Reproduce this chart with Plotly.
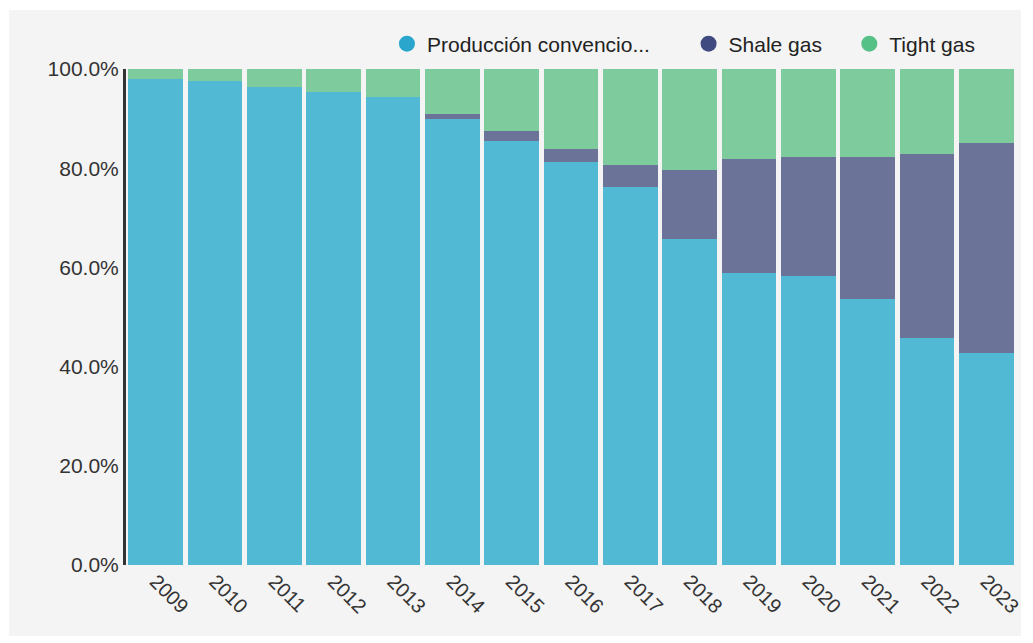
import plotly.graph_objects as go

years = ["2009", "2010", "2011", "2012", "2013", "2014", "2015", "2016",
         "2017", "2018", "2019", "2020", "2021", "2022", "2023"]
conventional = [98.0, 97.6, 96.4, 95.3, 94.4, 89.9, 85.5, 81.3, 76.2, 65.7, 58.9, 58.3, 53.6, 45.8, 42.7]
shale = [0.0, 0.0, 0.0, 0.0, 0.0, 1.0, 2.0, 2.6, 4.4, 13.9, 23.0, 24.0, 28.7, 37.1, 42.4]
tight = [2.0, 2.4, 3.6, 4.7, 5.6, 9.1, 12.5, 16.1, 19.4, 20.4, 18.1, 17.7, 17.7, 17.1, 14.9]
series_names = ["Producción convencio...", "Shale gas", "Tight gas"]
y_ticks = [0, 20, 40, 60, 80, 100]
y_tick_labels = ["0.0%", "20.0%", "40.0%", "60.0%", "80.0%", "100.0%"]

bar_colors = ["#52b9d4", "#6c7398", "#7ecb9d"]
legend_colors = ["#2aa6cc", "#3e4a80", "#55c187"]

W, H = 1033, 643
L, R, T, B = 126, 10, 69, 78
pw = W - L - R
ph = H - T - B


def px_x(p):
    return (p - L) / pw


def px_y(p):
    return (H - B - p) / ph


fig = go.Figure()
for name, vals, col in zip(series_names, [conventional, shale, tight], bar_colors):
    fig.add_trace(go.Bar(x=years, y=vals, name=name, marker=dict(color=col, line=dict(width=0)),
                         showlegend=False))

legend_keys = ["legend", "legend2", "legend3"]
legend_px = [389, 693, 855]
for name, col, key in zip(series_names, legend_colors, legend_keys):
    fig.add_trace(go.Scatter(x=[None], y=[None], mode="markers", name=name, legend=key,
                             marker=dict(color=col, size=20, symbol="circle")))

fig.add_shape(type="rect", xref="paper", yref="paper",
              x0=px_x(8), x1=px_x(1028), y0=px_y(636), y1=px_y(10),
              fillcolor="#f4f4f4", line=dict(width=0), layer="below")

leg_common = dict(orientation="h", xanchor="left", yanchor="middle", y=px_y(44),
                  font=dict(size=21, color="#222222"), bgcolor="rgba(0,0,0,0)", itemwidth=30)

fig.update_layout(
    width=W, height=H,
    margin=dict(l=L, r=R, t=T, b=B),
    barmode="stack",
    bargap=0.08,
    paper_bgcolor="white",
    plot_bgcolor="#eefafc",
    font=dict(family="Liberation Sans, Arial, sans-serif", size=21, color="#333333"),
    legend=dict(x=px_x(legend_px[0]), **leg_common),
    legend2=dict(x=px_x(legend_px[1]), **leg_common),
    legend3=dict(x=px_x(legend_px[2]), **leg_common),
    xaxis=dict(type="category", tickangle=45, showgrid=False, showline=False, zeroline=False,
               ticks="", tickfont=dict(size=20, color="#333333")),
    yaxis=dict(range=[0, 100], tickmode="array", tickvals=y_ticks, ticktext=y_tick_labels,
               showgrid=False, zeroline=False, showline=True, linecolor="#333333", linewidth=3,
               ticks="", tickfont=dict(size=21, color="#333333")),
)

fig.write_html("out.html")
